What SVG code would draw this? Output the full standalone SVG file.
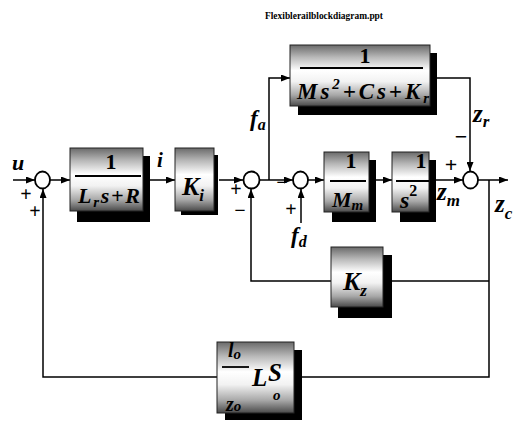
<svg xmlns="http://www.w3.org/2000/svg" width="526" height="422" viewBox="0 0 526 422">
<defs>
<linearGradient id="face" x1="0" y1="0" x2="0" y2="1">
<stop offset="0" stop-color="#6a6a6a"/>
<stop offset="0.2" stop-color="#b8b8b8"/>
<stop offset="0.42" stop-color="#ffffff"/>
<stop offset="0.6" stop-color="#f2f2f2"/>
<stop offset="0.82" stop-color="#a8a8a8"/>
<stop offset="1" stop-color="#4a4a4a"/>
</linearGradient>
<marker id="arr" markerUnits="userSpaceOnUse" markerWidth="9" markerHeight="7" refX="9" refY="3.5" orient="auto">
<path d="M0,0 L9,3.5 L0,7 z" fill="#000"/>
</marker>
</defs>
<style>
.sh{fill:#000}
.fc{fill:url(#face);stroke:#222;stroke-width:1}
.fl{stroke:#000;stroke-width:1.8}
.w{fill:none;stroke:#000;stroke-width:1.5;marker-end:url(#arr)}
.p{fill:none;stroke:#000;stroke-width:1.5}
.sum{fill:#fff;stroke:#000;stroke-width:1.8}
.v{font-family:'Liberation Serif','DejaVu Serif',serif;font-weight:bold;font-style:italic;fill:#000}
.n{font-family:'Liberation Serif','DejaVu Serif',serif;font-weight:bold;fill:#000}
</style>
<rect width="526" height="422" fill="#fff"/>
<text class="n" x="265" y="19" font-size="11" textLength="118" lengthAdjust="spacingAndGlyphs">Flexiblerailblockdiagram.ppt</text>

<g id="connectors">
<path class="w" d="M13,180 H35"/>
<path class="w" d="M50,180 H70"/>
<path class="w" d="M150,180 H175"/>
<path class="w" d="M219,180 H243"/>
<path class="w" d="M260,180 H293"/>
<path class="w" d="M269,180 V78 H290"/>
<path class="w" d="M308,180 H324"/>
<path class="w" d="M375,180 H392"/>
<path class="w" d="M436,180 H463"/>
<path class="w" d="M436,78 H470 V171"/>
<path class="w" d="M478,180 H508"/>
<path class="p" d="M489,180 V377 H302"/>
<path class="p" d="M489,281 H392"/>
<path class="w" d="M331,281 H251 V189"/>
<path class="w" d="M217,377 H43 V189"/>
<path class="w" d="M301,223 V189"/>
</g>

<g id="sum1"><ellipse class="sum" cx="42.5" cy="180" rx="7.5" ry="8.5"/></g>
<g id="sum2"><ellipse class="sum" cx="251.5" cy="180" rx="8" ry="8.5"/></g>
<g id="sum3"><ellipse class="sum" cx="300.5" cy="180" rx="7.5" ry="8.5"/></g>
<g id="sum4"><ellipse class="sum" cx="470.5" cy="180" rx="7.5" ry="8.5"/></g>

<g id="block-coil">
<rect class="sh" x="77" y="156" width="73" height="66"/>
<rect class="fc" x="70" y="148" width="73" height="63"/>
<line class="fl" x1="75" y1="176" x2="141" y2="176"/>
<text class="n" x="111" y="169" font-size="22" text-anchor="middle">1</text>
<text class="v" x="78" y="203" font-size="22" textLength="62">L<tspan font-size="15" dy="4">r</tspan><tspan dy="-4">s+R</tspan></text>
</g>

<g id="block-ki">
<rect class="sh" x="181" y="155" width="37" height="60"/>
<rect class="fc" x="175" y="148" width="39" height="63"/>
<text class="v" x="182" y="195" font-size="26">K<tspan font-size="17" dy="6">i</tspan></text>
</g>

<g id="block-rail">
<rect class="sh" x="298" y="53" width="139" height="62"/>
<rect class="fc" x="290" y="45" width="140" height="61"/>
<line class="fl" x1="300" y1="68" x2="423" y2="68"/>
<text class="n" x="365" y="63" font-size="22" text-anchor="middle">1</text>
<text class="v" x="297" y="99" font-size="23" textLength="132" lengthAdjust="spacing">Ms<tspan font-size="15" dy="-10">2</tspan><tspan dy="10">+Cs+K</tspan><tspan font-size="15" dy="4">r</tspan></text>
</g>

<g id="block-mm">
<rect class="sh" x="332" y="160" width="44" height="62"/>
<rect class="fc" x="324" y="152" width="45" height="60"/>
<line class="fl" x1="330" y1="181" x2="366" y2="181"/>
<text class="n" x="351" y="168" font-size="22" text-anchor="middle">1</text>
<text class="v" x="332" y="207" font-size="22">M<tspan font-size="15" dy="3">m</tspan></text>
</g>

<g id="block-s2">
<rect class="sh" x="400" y="160" width="36" height="62"/>
<rect class="fc" x="392" y="152" width="37" height="60"/>
<line class="fl" x1="396" y1="181" x2="429" y2="181"/>
<text class="n" x="421" y="168" font-size="22" text-anchor="middle">1</text>
<text class="v" x="400" y="208" font-size="24">s<tspan font-style="normal" font-size="16" dy="-12">2</tspan></text>
</g>

<g id="block-kz">
<rect class="sh" x="338" y="255" width="54" height="63"/>
<rect class="fc" x="331" y="247" width="52" height="60"/>
<text class="v" x="343" y="290" font-size="26">K<tspan font-size="17" dy="6">z</tspan></text>
</g>

<g id="block-lo">
<rect class="sh" x="225" y="350" width="77" height="70"/>
<rect class="fc" x="217" y="342" width="77" height="71"/>
<line class="fl" x1="222" y1="367" x2="249" y2="367"/>
<text class="v" x="228" y="357" font-size="20">l<tspan font-size="15" dy="2">o</tspan></text>
<text class="v" x="226" y="411" font-size="20">z<tspan font-size="15">o</tspan></text>
<text class="v" font-size="25"><tspan x="252" y="386">L</tspan><tspan x="268" y="381">S</tspan><tspan x="273" y="400" font-size="15">o</tspan></text>
</g>

<g id="labels">
<text class="v" x="12" y="170" font-size="22">u</text>
<text class="v" x="157" y="167" font-size="21">i</text>
<text class="v" x="250" y="126" font-size="23">f<tspan font-size="16" dy="4">a</tspan></text>
<text class="v" x="291" y="243" font-size="23">f<tspan font-size="16" dy="4">d</tspan></text>
<text class="v" x="473" y="122" font-size="25">z<tspan font-size="17" dy="5">r</tspan></text>
<text class="v" x="437" y="200" font-size="25">z<tspan font-size="17" dy="6">m</tspan></text>
<text class="v" x="495" y="212" font-size="25">z<tspan font-size="17" dy="7">c</tspan></text>
<text class="n" x="26" y="201" font-size="20" text-anchor="middle">+</text>
<text class="n" x="35" y="218" font-size="20" text-anchor="middle">+</text>
<text class="n" x="236" y="196" font-size="20" text-anchor="middle">+</text>
<text class="n" x="240" y="217" font-size="20" text-anchor="middle">−</text>
<text class="n" x="282" y="189" font-size="20" text-anchor="middle">−</text>
<text class="n" x="291" y="216" font-size="20" text-anchor="middle">+</text>
<text class="n" x="451" y="172" font-size="22" text-anchor="middle">+</text>
<text class="n" x="461" y="144" font-size="22" text-anchor="middle">−</text>
</g>
</svg>
